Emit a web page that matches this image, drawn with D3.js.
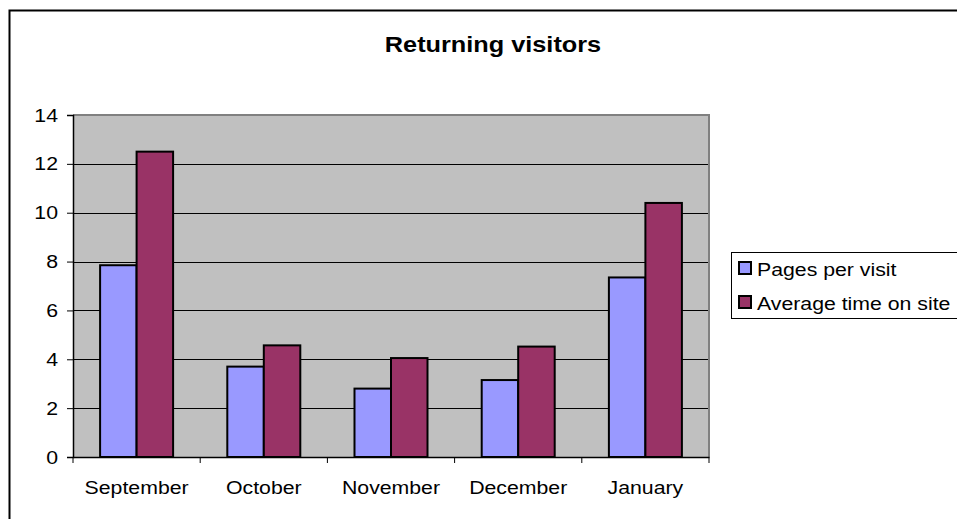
<!DOCTYPE html>
<html>
<head>
<meta charset="utf-8">
<script src="https://cdn.jsdelivr.net/npm/d3@7"></script>
<style>
body { margin: 0; background: #fff; }
svg text { font-family: "Liberation Sans", Arial, sans-serif; fill: #000; }
</style>
</head>
<body>
<div id="chart"></div>
<script>
// data
var months = ["September", "October", "November", "December", "January"];
var seriesNames = ["Pages per visit", "Average time on site"];
var pagesPerVisit = [7.85, 3.7, 2.8, 3.15, 7.35];
var avgTimeOnSite = [12.5, 4.57, 4.05, 4.52, 10.4];
var yTicks = [0, 2, 4, 6, 8, 10, 12, 14];
var colors = ["#9999FF", "#993366"];

var W = 957, H = 519;
var plot = {left: 73, right: 709, top: 115, bottom: 457};
var sx = 1.15; // the text in the picture is a bit wide

var svg = d3.select("#chart").append("svg")
	.attr("width", W)
	.attr("height", H);

// outer frame
svg.append("rect")
	.attr("x", 9.5).attr("y", 10.5)
	.attr("width", 980).attr("height", 540)
	.attr("fill", "#fff")
	.attr("stroke", "#000")
	.attr("stroke-width", 2);

function stretchedText(x, y, str, anchor) {
	return svg.append("text")
		.attr("transform", "translate(" + x + "," + y + ") scale(" + sx + ",1)")
		.attr("text-anchor", anchor)
		.text(str);
}

// title
stretchedText(493, 52, "Returning visitors", "middle")
	.attr("font-size", 22)
	.attr("font-weight", "bold");

var y = d3.scaleLinear().domain([0, 14]).range([plot.bottom, plot.top]);
var x = d3.scaleBand().domain(months).range([plot.left, plot.right]);
var groupW = 73;
var xs = d3.scaleBand().domain(d3.range(seriesNames.length))
	.range([(x.bandwidth() - groupW) / 2, (x.bandwidth() + groupW) / 2]);

// plot background
svg.append("rect")
	.attr("x", plot.left).attr("y", plot.top)
	.attr("width", plot.right - plot.left)
	.attr("height", plot.bottom - plot.top)
	.attr("fill", "#C0C0C0");

// grid lines
svg.append("g").selectAll("line")
	.data(yTicks.filter(function(d){ return d > 0 && d < 14; }))
	.enter().append("line")
		.attr("x1", plot.left).attr("x2", plot.right)
		.attr("y1", function(d){ return Math.round(y(d)) + 0.5; })
		.attr("y2", function(d){ return Math.round(y(d)) + 0.5; })
		.attr("stroke", "#000")
		.attr("stroke-width", 1);

// plot border (gray top & right)
svg.append("path")
	.attr("d", "M" + plot.left + "," + plot.top + "H" + plot.right + "V" + plot.bottom)
	.attr("fill", "none")
	.attr("stroke", "#808080")
	.attr("stroke-width", 2);

// bars
var table = months.map(function(m, i){ return [pagesPerVisit[i], avgTimeOnSite[i]]; });
var groups = svg.append("g").selectAll("g")
	.data(table)
	.enter().append("g")
		.attr("transform", function(d, i){ return "translate(" + x(months[i]) + ",0)"; });

groups.selectAll("rect")
	.data(function(d){ return d; })
	.enter().append("rect")
		.attr("x", function(d, j){ return xs(j); })
		.attr("width", xs.bandwidth())
		.attr("y", function(d){ return y(d); })
		.attr("height", function(d){ return y(0) - y(d); })
		.attr("fill", function(d, j){ return colors[j]; })
		.attr("stroke", "#000")
		.attr("stroke-width", 2);

// y axis
var yAxis = svg.append("g")
	.attr("transform", "translate(" + plot.left + ",0)")
	.call(d3.axisLeft(y).tickValues(yTicks).tickSize(6).tickFormat(""));
yAxis.select(".domain").attr("stroke", "#000").attr("stroke-width", 1.5);
yAxis.selectAll(".tick line").attr("stroke", "#000");
yTicks.forEach(function(t){
	stretchedText(58, y(t) + 6.5, String(t), "end").attr("font-size", 18.5);
});

// x axis
var xAxis = svg.append("g")
	.attr("transform", "translate(0," + plot.bottom + ")")
	.call(d3.axisBottom(x).tickSize(0).tickFormat(""));
xAxis.select(".domain").attr("stroke", "#000").attr("stroke-width", 1.5);
xAxis.append("g").selectAll("line")
	.data(months.concat(["end"]))
	.enter().append("line")
		.attr("x1", function(d, i){ return plot.left + i * x.bandwidth(); })
		.attr("x2", function(d, i){ return plot.left + i * x.bandwidth(); })
		.attr("y1", 0).attr("y2", 6)
		.attr("stroke", "#000");
months.forEach(function(m){
	stretchedText(x(m) + x.bandwidth() / 2, 494, m, "middle").attr("font-size", 18.5);
});

// legend
svg.append("rect")
	.attr("x", 731.5).attr("y", 252.5)
	.attr("width", 240).attr("height", 66)
	.attr("fill", "#fff")
	.attr("stroke", "#000")
	.attr("stroke-width", 1);
seriesNames.forEach(function(name, i){
	var ly = 262 + i * 34;
	svg.append("rect")
		.attr("x", 739).attr("y", ly)
		.attr("width", 12).attr("height", 12)
		.attr("fill", colors[i])
		.attr("stroke", "#000")
		.attr("stroke-width", 2);
	stretchedText(757, ly + 14, name, "start").attr("font-size", 18.5);
});
</script>
</body>
</html>
